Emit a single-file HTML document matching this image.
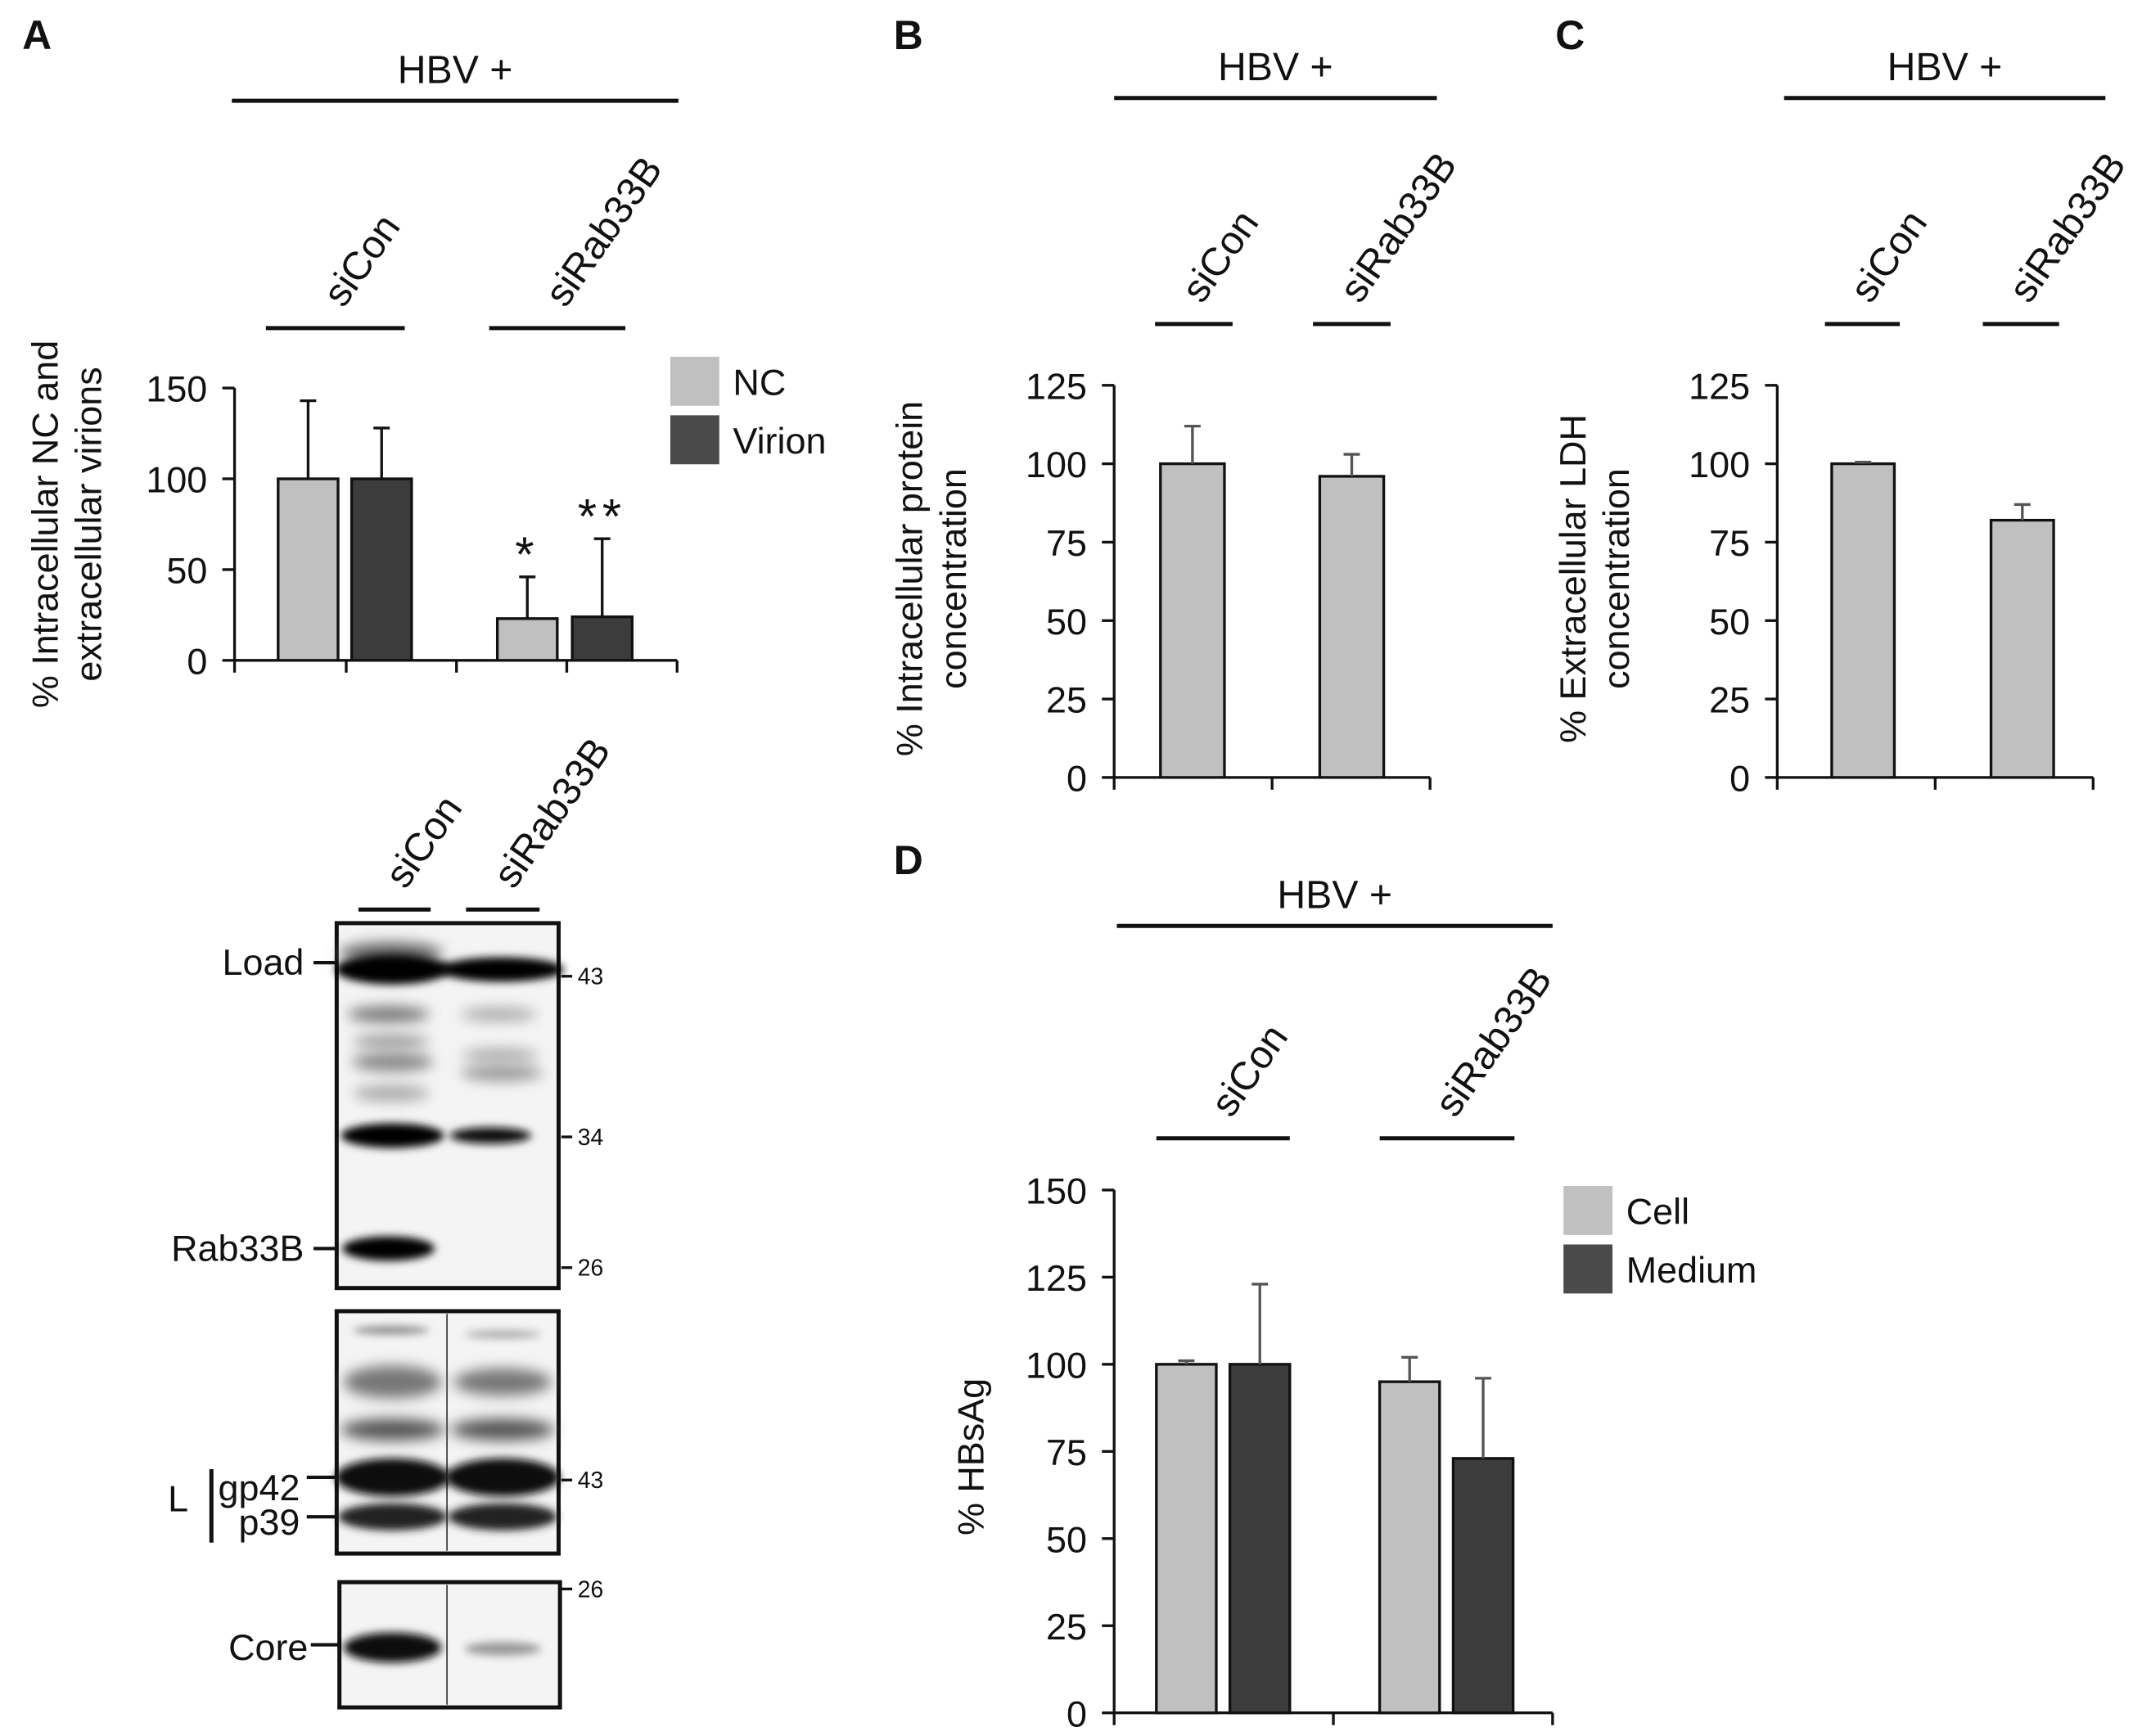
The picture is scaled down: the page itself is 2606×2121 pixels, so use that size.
<!DOCTYPE html>
<html><head><meta charset="utf-8"><style>
html,body{margin:0;padding:0;background:#fff}
svg{display:block}
text{font-family:"Liberation Sans",Arial,sans-serif;fill:#111}
</style></head><body>
<svg id="fig" width="2606" height="2121" viewBox="0 0 1566 1275" xmlns="http://www.w3.org/2000/svg">
<defs>
<filter id="blur2" x="-20%" y="-100%" width="140%" height="300%"><feGaussianBlur stdDeviation="3"/></filter>
<filter id="blur5" x="-20%" y="-100%" width="140%" height="300%"><feGaussianBlur stdDeviation="5"/></filter>
</defs>
<g id="root"></g>
</svg>
<script>
// ---- Panel A data
const catsA = ["siCon","siRab33B"];
const ncA = [100, 23];
const ncErrA = [143, 46];
const virA = [100, 24];
const virErrA = [128, 67];
const ticksA = [0,50,100,150];
const starsA = ["*","**"];
// ---- Panel B data
const protB = [100, 96];
const protErrB = [112, 103];
const ticksBC = [0,25,50,75,100,125];
// ---- Panel C data
const ldhC = [100, 82];
const ldhErrC = [100.5, 87];
// ---- Panel D data
const cellD = [100, 95];
const cellErrD = [101, 102];
const medD = [100, 73];
const medErrD = [123, 96];
const ticksD = [0,25,50,75,100,125,150];

const NS="http://www.w3.org/2000/svg";
const root=document.getElementById('root');
function el(tag,attrs,parent,txt){const e=document.createElementNS(NS,tag);for(const k in attrs)e.setAttribute(k,attrs[k]);if(txt!==undefined)e.textContent=txt;(parent||root).appendChild(e);return e;}
const LIGHT="#c0c0c0", DARK="#3c3c3c";

function axis(g,cfg){
  const y=v=>cfg.y0-(v-cfg.min)/(cfg.max-cfg.min)*(cfg.y0-cfg.yTop);
  let ax=el('line',{x1:cfg.x0,y1:y(cfg.max),x2:cfg.x0,y2:cfg.y0,stroke:'#111','stroke-width':2},g);
  
  cfg.ticks.forEach(t=>{
    let tl=el('line',{x1:cfg.x0-9,y1:y(t),x2:cfg.x0,y2:y(t),stroke:'#111','stroke-width':2},g);
    
    let tx=el('text',{x:cfg.x0-20,y:y(t)+10,'text-anchor':'end','font-size':27},g,String(t));
    
  });
  let xa=el('line',{x1:cfg.x0,y1:cfg.y0,x2:cfg.x1,y2:cfg.y0,stroke:'#111','stroke-width':2},g);
  
  cfg.xticks.forEach(xt=>{
    let l=el('line',{x1:xt,y1:cfg.y0,x2:xt,y2:cfg.y0+9,stroke:'#111','stroke-width':2},g);
    
  });
  return y;
}
function bar(g,y,x,w,v,err,fill,name,errColor){
  let r=el('rect',{x:x,y:y(v),width:w,height:y(0)-y(v),fill:fill,stroke:'#111','stroke-width':2},g);
  
  const cx=x+w/2;
  let e1=el('line',{x1:cx,y1:y(v),x2:cx,y2:y(err),stroke:errColor||'#111','stroke-width':2},g);
  
  let e2=el('line',{x1:cx-6,y1:y(err),x2:cx+6,y2:y(err),stroke:errColor||'#111','stroke-width':2},g);
  
}
function header(g,letter,lx,ly,hx1,hx2,hy,groups,gy){
  let L=el('text',{x:lx,y:ly,'font-size':30,'font-weight':'bold'},g,letter);
  
  let h=el('text',{x:(hx1+hx2)/2,y:hy-13,'text-anchor':'middle','font-size':29},g,'HBV +');
  
  let hl=el('line',{x1:hx1,y1:hy,x2:hx2,y2:hy,stroke:'#111','stroke-width':3},g);
  
  groups.forEach((gr,i)=>{
    let l=el('line',{x1:gr[0],y1:gy,x2:gr[1],y2:gy,stroke:'#111','stroke-width':3},g);
    
    const cx=(gr[0]+gr[1])/2+6;
    let t=el('text',{x:cx,y:gy-14,'font-size':29,transform:`rotate(-55 ${cx} ${gy-14})`},g,catsA[i]);
    
  });
}
function ylabel(g,lines,x,y,name){
  let t=el('text',{transform:`translate(${x} ${y}) rotate(-90)`,'text-anchor':'middle','font-size':27},g);
  
  lines.forEach((s,i)=>{el('tspan',{x:0,dy:i?32:0},t,s);});
}
function legend(g,x,y,items){
  items.forEach((it,i)=>{
    let r=el('rect',{x:x,y:y+i*43,width:36,height:36,fill:it[1]},g);
    
    let t=el('text',{x:x+46,y:y+i*43+28,'font-size':27},g,it[0]);
    
  });
}

// ---- Panel A
let gA=el('g',{});
header(gA,'A',16,36,170,498,74,[[195,297],[359,459]],241);
let yA=axis(gA,{x0:172,x1:497,y0:485,yTop:285,min:0,max:150,ticks:ticksA,xticks:[172,254,335,416,497]});
const bxA=[[204,258],[365,420]];
for(let i=0;i<catsA.length;i++){
  bar(gA,yA,bxA[i][0],44,ncA[i],ncErrA[i],LIGHT,'bar-nc-'+catsA[i].toLowerCase());
  bar(gA,yA,bxA[i][1],44,virA[i],virErrA[i],DARK,'bar-virion-'+catsA[i].toLowerCase());
}
[[0,ncErrA],[1,virErrA]].forEach(([k,arr])=>{
  const txt=starsA[k];
  let t=el('text',{x:bxA[1][k]+22,y:yA(arr[1])-4,'text-anchor':'middle','font-size':36,'letter-spacing':4},gA,txt);
  
});
ylabel(gA,['% Intracellular NC and','extracellular virions'],42,385,'y-axis-title-a');
legend(gA,492,262,[['NC',LIGHT],['Virion','#4a4a4a']]);

// ---- Western blot
let gW=el('g',{});
[[[263,316],'siCon'],[[342,396],'siRab33B']].forEach(([r,n])=>{
  let l=el('line',{x1:r[0],y1:668,x2:r[1],y2:668,stroke:'#111','stroke-width':3},gW);
  
  const cx=(r[0]+r[1])/2+8;
  let t=el('text',{x:cx,y:654,'font-size':29,transform:`rotate(-55 ${cx} 654)`},gW,n);
  
});
function box(x,y,w,h,name,div){
  let r=el('rect',{x:x,y:y,width:w,height:h,fill:'#f4f4f4',stroke:'#111','stroke-width':3},gW);
  
  if(div){let d=el('line',{x1:328,y1:y+2,x2:328,y2:y+h-2,stroke:'#333','stroke-width':1},gW);}
}
function band(cx,cy,rx,ry,col,f){
  let e=el('ellipse',{cx:cx,cy:cy,rx:rx,ry:ry,fill:col,filter:'url(#'+(f||'blur2')+')'},gW);
  
}
box(247,678,163,268,'blot-panel-1');
band(287,700,38,8,'#666','blur5');
band(288,712,42,11,'#000');band(368,712,46,9,'#000');
band(285,745,30,6,'#777','blur5');band(366,745,28,5,'#aaa','blur5');
band(287,765,28,5,'#999','blur5');band(367,775,28,5,'#aaa','blur5');
band(288,780,30,7,'#888','blur5');band(368,788,30,6,'#999','blur5');
band(287,803,28,6,'#aaa','blur5');
band(288,834,38,9,'#000');band(360,834,30,6,'#111');
band(285,917,34,9,'#000');
box(247,963,163,178,'blot-panel-2',true);
band(287,977,28,3,'#888');band(369,980,28,3,'#aaa');
band(288,1015,36,12,'#777','blur5');band(369,1015,36,10,'#777','blur5');
band(288,1050,38,8,'#555','blur5');band(369,1050,38,8,'#555','blur5');
band(288,1085,42,14,'#111');band(369,1085,42,14,'#111');
band(288,1114,40,10,'#222');band(369,1114,40,10,'#222');
box(249,1162,162,92,'blot-panel-3',true);
band(288,1210,36,11,'#111');band(369,1211,28,5,'#999');
// labels
[['Load',223,707],['Rab33B',223,917],['gp42',220,1093],['p39',220,1118],['Core',226,1210]].forEach(a=>{
  let t=el('text',{x:a[1],y:a[2]+9,'text-anchor':'end','font-size':27},gW,a[0]);
  
});
[[230,707,247],[230,917,247],[225,1085,247],[225,1114,247],[228,1208,249]].forEach(a=>{
  let l=el('line',{x1:a[0],y1:a[1],x2:a[2],y2:a[1],stroke:'#111','stroke-width':2.5},gW);
  
});
let Lt=el('text',{x:123,y:1110,'font-size':27},gW,'L');
let Lb=el('line',{x1:155,y1:1079,x2:155,y2:1133,stroke:'#111','stroke-width':3},gW);
[['43',717],['34',835],['26',931],['43',1087],['26',1167]].forEach(a=>{
  let l=el('line',{x1:412,y1:a[1],x2:420,y2:a[1],stroke:'#111','stroke-width':2},gW);
  
  let t=el('text',{x:424,y:a[1]+6,'font-size':17},gW,a[0]);
  
});

// ---- Panel B
let gB=el('g',{});
header(gB,'B',656,36,818,1055,72,[[848,905],[964,1021]],238);
let yB=axis(gB,{x0:818,x1:1050,y0:571,yTop:283,min:0,max:125,ticks:ticksBC,xticks:[818,934,1050]});
const bxB=[852,969];
for(let i=0;i<2;i++) bar(gB,yB,bxB[i],47,protB[i],protErrB[i],LIGHT,'bar-protein-'+catsA[i].toLowerCase(),'#555');
ylabel(gB,['% Intracellular protein','concentration'],677,425,'y-axis-title-b');

// ---- Panel C
let gC=el('g',{});
header(gC,'C',1142,36,1310,1546,72,[[1340,1395],[1456,1512]],238);
let yC=axis(gC,{x0:1305,x1:1537,y0:571,yTop:283,min:0,max:125,ticks:ticksBC,xticks:[1305,1421,1537]});
const bxC=[1345,1462];
for(let i=0;i<2;i++) bar(gC,yC,bxC[i],46,ldhC[i],ldhErrC[i],LIGHT,'bar-ldh-'+catsA[i].toLowerCase(),'#555');
ylabel(gC,['% Extracellular LDH','concentration'],1164,425,'y-axis-title-c');

// ---- Panel D
let gD=el('g',{});
header(gD,'D',656,642,820,1140,680,[[849,947],[1013,1112]],836);
let yD=axis(gD,{x0:818,x1:1140,y0:1258,yTop:874,min:0,max:150,ticks:ticksD,xticks:[818,979,1140]});
const bxD=[[849,903],[1013,1067]];
for(let i=0;i<2;i++){
  bar(gD,yD,bxD[i][0],44,cellD[i],cellErrD[i],LIGHT,'bar-cell-'+catsA[i].toLowerCase(),'#555');
  bar(gD,yD,bxD[i][1],44,medD[i],medErrD[i],DARK,'bar-medium-'+catsA[i].toLowerCase(),'#555');
}
ylabel(gD,['% HBsAg'],722,1070,'y-axis-title-d');
legend(gD,1148,871,[['Cell',LIGHT],['Medium','#4a4a4a']]);
</script>
</body></html>
